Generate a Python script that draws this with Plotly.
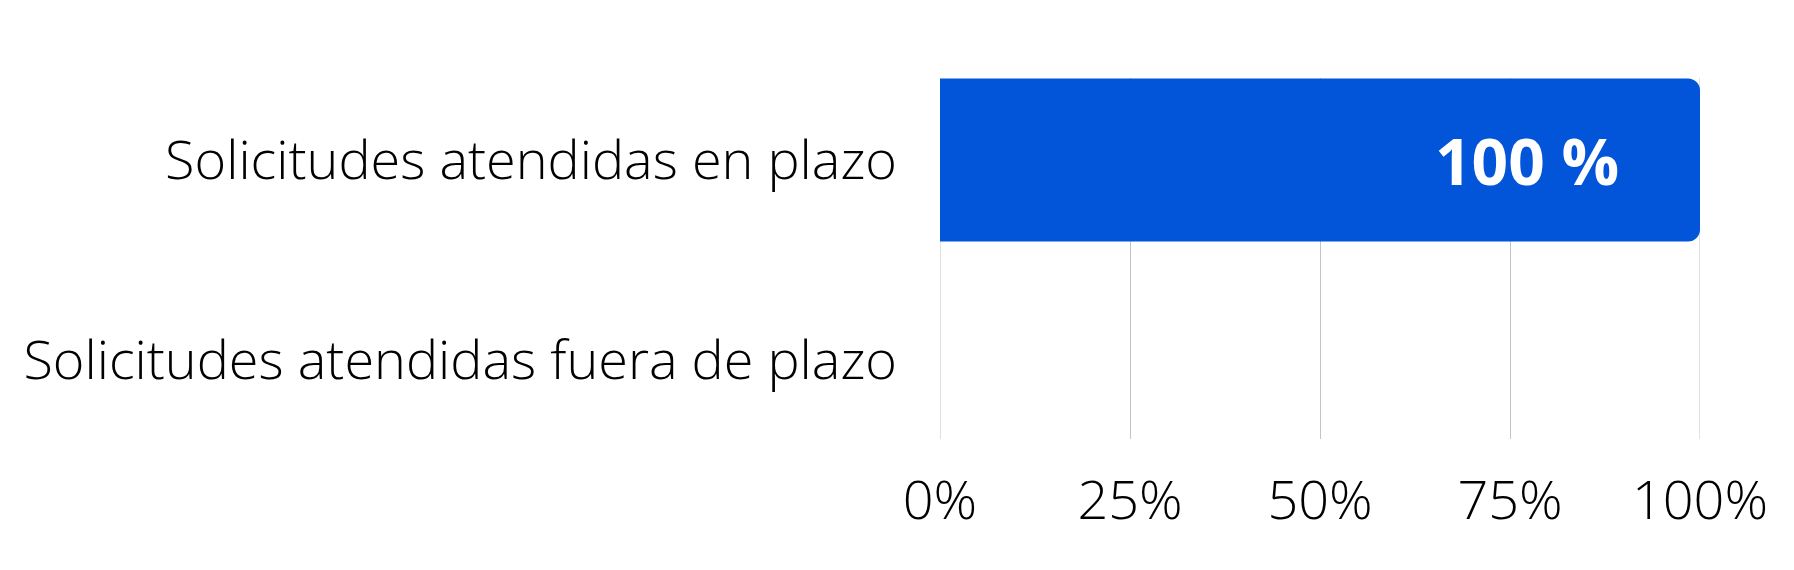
import plotly.graph_objects as go

# data
categories = ["Solicitudes atendidas en plazo", "Solicitudes atendidas fuera de plazo"]
values = [100, 0]
x_ticks = [0, 25, 50, 75, 100]
x_tick_labels = ["0%", "25%", "50%", "75%", "100%"]

bar_color = "#0254D9"
grid_color = "#c4c4c4"

fig = go.Figure()
fig.add_trace(go.Bar(
    x=values,
    y=categories,
    orientation="h",
    width=0.815,
    marker=dict(color=bar_color, line=dict(width=0)),
    hoverinfo="skip",
))

# value labels inside the bar, a bit away from its end
for cat, val in zip(categories, values):
    if val > 0:
        fig.add_annotation(
            x=val, y=cat, text=f"{val} %",
            xanchor="right", yanchor="middle", xshift=-79, showarrow=False,
            font=dict(family="Open Sans", size=64, color="white", weight="bold"),
        )

# plotly drops the grid lines sitting on the range edges, so draw those two
for t in (x_ticks[0], x_ticks[-1]):
    fig.add_shape(
        type="line", xref="x", yref="y domain", x0=t, x1=t, y0=0, y1=1,
        line=dict(color=grid_color, width=1), layer="below",
    )

fig.update_layout(
    width=1794, height=570,
    margin=dict(l=932, r=102, t=70, b=139),
    plot_bgcolor="white", paper_bgcolor="white",
    showlegend=False,
    barcornerradius=12,
    font=dict(family="Open Sans", color="black", weight=300),
)
fig.update_xaxes(
    range=[0, 100], tickvals=x_ticks, ticktext=x_tick_labels,
    showgrid=True, gridcolor=grid_color, gridwidth=1,
    zeroline=False, showline=False,
    tickfont=dict(size=54, family="Open Sans", weight=300),
    ticklabelstandoff=25,
)
fig.update_yaxes(
    range=[1.395, -0.41],
    showgrid=False, zeroline=False, showline=False,
    tickfont=dict(size=54, family="Open Sans", weight=300),
    ticklabelstandoff=42,
)

fig.write_html("out.html")
